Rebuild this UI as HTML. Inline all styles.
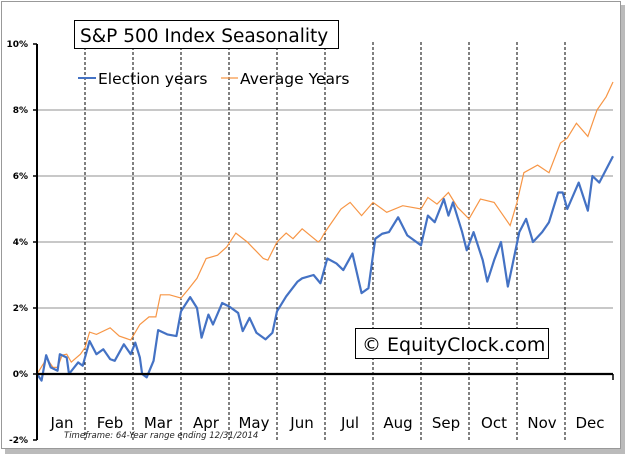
<!DOCTYPE html>
<html><head><meta charset="utf-8"><style>
html,body{margin:0;padding:0;background:#fff;width:628px;height:457px;overflow:hidden}
text{font-family:"DejaVu Sans","Liberation Sans",sans-serif}
</style></head><body>
<svg id="chart" width="628" height="457" xmlns="http://www.w3.org/2000/svg">
<rect x="5" y="5" width="620" height="449" fill="#bbb"/>
<rect x="1.5" y="1.5" width="619" height="447" fill="#fff" stroke="#999"/>
<g id="grid"></g>
<g id="series"></g>
<g id="axes"></g>
<rect x="74.5" y="20.5" width="264" height="28" fill="#fff" stroke="#000"/>
<text x="80" y="42" font-size="18.5">S&amp;P 500 Index Seasonality</text>
<g>
<line x1="78" y1="78" x2="96" y2="78" stroke="#4472C4" stroke-width="2"/>
<text x="98" y="84" font-size="15.5">Election years</text>
<line x1="221" y1="78" x2="238" y2="78" stroke="#F79646" stroke-width="1.2"/>
<text x="240" y="84" font-size="15.5">Average Years</text>
</g>
<rect x="355.5" y="328.5" width="193" height="30" fill="#fff" stroke="#000"/>
<text x="362" y="351" font-size="19">© EquityClock.com</text>
<text x="64" y="438" font-size="8.5" font-style="italic" fill="#222">Timeframe: 64-Year range ending 12/31/2014</text>
</svg>
<script>
const months = ["Jan","Feb","Mar","Apr","May","Jun","Jul","Aug","Sep","Oct","Nov","Dec"];
const yTicks = [-2,0,2,4,6,8,10];
const avgDays = [0,3,4,7,9,11,13,15,19,21,23,26,32,36,41,45,49,52,54,58,63,66,70,74,79,83,87,92,99,101,105,109,112,116,123,124,126,133,137,142,147,153,160,168,171,175,180,184,189,194,200,203,207,210,213,219,224,229,232,236,241,245,249,252];
const avgVals = [0,0.33,0.5,0.2,0.2,0.57,0.6,0.36,0.6,0.8,1.27,1.2,1.4,1.15,1.03,1.5,1.73,1.73,2.4,2.4,2.3,2.55,2.9,3.5,3.6,3.85,4.27,4.0,3.5,3.45,4.0,4.27,4.1,4.4,4.0,4.06,4.3,5.0,5.2,4.8,5.2,4.9,5.1,5.0,5.35,5.15,5.5,5.05,4.7,5.3,5.2,4.9,4.5,5.2,6.1,6.33,6.1,7.0,7.15,7.6,7.2,8.0,8.4,8.85];
const elecDays = [0,2,4,6,9,10,13,14,18,20,23,26,29,32,34,38,41,43,45,46,48,51,53,57,61,63,67,70,72,75,77,81,84,88,90,93,96,100,103,105,109,114,116,121,124,127,131,134,138,142,145,148,151,154,158,162,168,171,174,178,180,182,186,188,191,195,197,200,203,206,208,211,214,217,221,224,228,230,232,237,241,243,246,252];
const elecVals = [0,-0.2,0.57,0.2,0.1,0.6,0.5,0.0,0.35,0.25,1.0,0.6,0.75,0.45,0.4,0.9,0.6,0.95,0.5,0,-0.1,0.4,1.33,1.2,1.15,1.9,2.33,2.0,1.1,1.8,1.5,2.15,2.05,1.85,1.3,1.7,1.25,1.05,1.25,1.9,2.35,2.8,2.9,3.0,2.75,3.5,3.35,3.15,3.65,2.45,2.6,4.1,4.25,4.3,4.75,4.2,3.9,4.8,4.6,5.3,4.8,5.2,4.3,3.75,4.3,3.45,2.8,3.45,4.0,2.65,3.3,4.3,4.7,4.0,4.3,4.6,5.5,5.5,5.0,5.8,4.95,6.0,5.8,6.6];

const NS="http://www.w3.org/2000/svg";
const X0=37,X1=613,Y0=374,PX=33;
const xs=d=>X0+d/252*(X1-X0);
const ys=v=>Y0-v*PX;
const mk=(p,t,a)=>{const e=document.createElementNS(NS,t);for(const k in a)e.setAttribute(k,a[k]);p.appendChild(e);return e;};
const grid=document.getElementById('grid'),axes=document.getElementById('axes'),ser=document.getElementById('series');
yTicks.forEach(v=>{
  if(v>0&&v<10){const l=mk(grid,'line',{x1:X0,x2:X1,y1:ys(v),y2:ys(v),stroke:'#a6a6a6','stroke-width':1.3});
  
  }
  mk(axes,'line',{x1:X0-4,x2:X0,y1:ys(v),y2:ys(v),stroke:'#000','stroke-width':1.5});
  const t=mk(axes,'text',{x:X0-9,y:ys(v)+3,'font-size':9,'font-weight':'bold','text-anchor':'end'});
  t.textContent=v+'%';
  
  
});
const mw=(X1-X0)/12;
months.forEach((m,i)=>{
  const x=X0+mw*(i+1);
  if(i<11){const l=mk(grid,'line',{x1:x,x2:x,y1:ys(10)-2,y2:ys(-2),stroke:'#000','stroke-width':1,'stroke-dasharray':'3,2'});
  
  }
  const t=mk(axes,'text',{x:X0+mw*(i+0.5)+1,y:428,'font-size':15,'text-anchor':'middle'});
  t.textContent=m;
  
  
});
mk(axes,'line',{x1:X0,x2:X0,y1:ys(10),y2:ys(-2),stroke:'#000','stroke-width':2});
mk(axes,'line',{x1:X0,x2:X1,y1:Y0,y2:Y0,stroke:'#000','stroke-width':2.2});
mk(axes,'line',{x1:X1,x2:X1,y1:Y0,y2:Y0+6,stroke:'#000','stroke-width':1.5});
const p1=mk(ser,'polyline',{points:avgDays.map((d,i)=>xs(d)+','+ys(avgVals[i])).join(' '),fill:'none',stroke:'#F79646','stroke-width':1.2});


const p2=mk(ser,'polyline',{points:elecDays.map((d,i)=>xs(d)+','+ys(elecVals[i])).join(' '),fill:'none',stroke:'#4472C4','stroke-width':2.2,'stroke-linejoin':'round'});


</script>
</body></html>
